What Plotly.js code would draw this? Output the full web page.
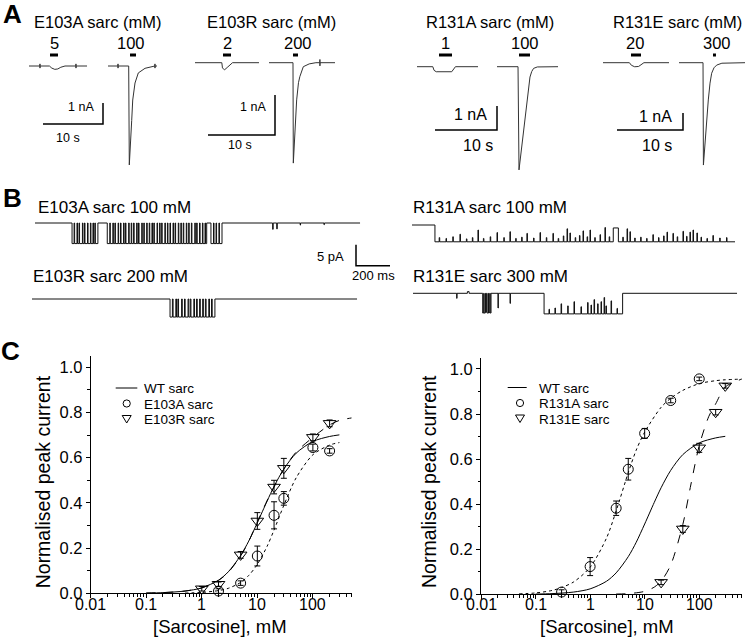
<!DOCTYPE html>
<html><head><meta charset="utf-8">
<script src="https://cdn.plot.ly/plotly-3.0.1.min.js"></script>
<style>html,body{margin:0;padding:0;background:#fff}#chart{width:745px;height:637px}</style>
</head><body><div id="chart"></div>
<script>
const W=745,H=637;
const FONT='Arial, "Liberation Sans", Helvetica, sans-serif';
const px=X=>X/W, py=Y=>1-Y/H;

// ================= Panel C : concentration-response data =================
const e103aConc=[2,5,10,20,30,100,200];
const e103aResp=[0.01,0.045,0.165,0.345,0.42,0.645,0.63];
const e103aErr=[0.01,0.01,0.044,0.06,0.03,0.015,0.01];
const e103rConc=[1,2,5,10,20,30,100,200];
const e103rResp=[0.02,0.04,0.17,0.32,0.47,0.553,0.69,0.752];
const e103rErr=[0.01,0.01,0.015,0.037,0.03,0.044,0.015,0.015];
const r131aConc=[0.3,1,3,5,10,30,100];
const r131aResp=[0.01,0.123,0.382,0.555,0.714,0.86,0.956];
const r131aErr=[0.01,0.04,0.032,0.048,0.022,0.01,0.008];
const r131eConc=[20,50,100,200,300];
const r131eResp=[0.053,0.29,0.65,0.808,0.925];
const r131eErr=[0.01,0.015,0.02,0.012,0.01];

// fitted curves
const wtConc=[0.1,0.2,0.5,1,2,3,5,7,10,15,20,30,50,100,200,300];
const wtFit=[0.001,0.003,0.01,0.024,0.058,0.095,0.167,0.231,0.312,0.408,0.473,0.55,0.62,0.672,0.694,0.701];
const e103aFitConc=[0.5,1,2,3,5,7,10,15,20,30,50,100,200,300];
const e103aFit=[0.001,0.004,0.012,0.022,0.048,0.079,0.128,0.208,0.28,0.389,0.511,0.613,0.656,0.667];
const e103rFitConc=[0.1,0.2,0.5,1,2,3,5,7,10,15,20,30,50,100,200,300,500];
const e103rFit=[0.001,0.003,0.01,0.024,0.057,0.093,0.165,0.23,0.315,0.41,0.47,0.55,0.625,0.69,0.745,0.765,0.776];
const r131aFitConc=[0.05,0.1,0.2,0.3,0.5,1,2,3,5,7,10,20,30,50,100,200,300,600];
const r131aFit=[0.002,0.006,0.017,0.03,0.055,0.12,0.25,0.37,0.54,0.64,0.72,0.83,0.87,0.905,0.935,0.948,0.952,0.955];
const r131eFitConc=[3,5,10,15,20,30,50,70,100,150,200,300,600];
const r131eFit=[0.001,0.003,0.013,0.032,0.058,0.13,0.31,0.485,0.66,0.79,0.845,0.92,0.955];

const xTickVals=[0.01,0.1,1,10,100];
const xTickText=['0.01','0.1','1','10','100'];

// ================= Panel A : whole-cell currents (time s, current nA) =================
const groupNames=['E103A sarc (mM)','E103R sarc (mM)','R131A sarc (mM)','R131E sarc (mM)'];
const concLabels=[['5','100'],['2','200'],['1','100'],['20','300']];
// E103A
const tE103A_5=[0,1.81,1.83,1.83,1.85,3.4,3.8,4.3,4.8,5.3,6.0,7.81,7.83,7.83,7.85,9.67];
const iE103A_5=[0,0,0.1,-0.1,0,0,-0.10,-0.16,-0.14,-0.06,0,0,0.1,-0.1,0,0];
const tE103A_100=[0,1.65,1.67,1.67,1.69,3.45,3.55,3.95,4.12,4.5,5.05,6.17,7.5,7.81,7.83,7.83,7.85,8.17];
const iE103A_100=[0,0,0.1,-0.1,0,0,-4.71,-2.6,-1.62,-0.81,-0.33,-0.11,-0.02,0,0.1,-0.1,0,0];
// E103R
const tE103R_2=[0,4.0,4.1,4.4,4.8,5.2,5.6,9.55];
const iE103R_2=[0,0,-0.13,-0.18,-0.12,-0.05,0,0];
const tE103R_200=[0,3.58,3.63,3.9,4.13,4.4,4.6,5.12,6.0,7.0,7.58,7.6,7.6,7.62,9.85];
const iE103R_200=[0,0,-2.51,-1.7,-0.93,-0.5,-0.35,-0.1,-0.03,0,0,0.08,-0.08,0,0];
// R131A
const tR131A_1=[0,2.55,2.75,3.1,5.6,5.95,6.2,9.84];
const iR131A_1=[0,0,-0.15,-0.21,-0.21,-0.1,0,0];
const tR131A_100=[0,3.39,3.55,4.2,4.84,5.1,5.32,5.6,5.9,6.5,9.84];
const iR131A_100=[0,0,-4.3,-2.85,-1.39,-0.85,-0.43,-0.2,-0.07,-0.01,0];
// R131E
const tR131E_20=[0,4.0,4.3,4.8,5.4,5.9,6.2,10];
const iR131E_20=[0,0,-0.15,-0.24,-0.22,-0.08,0,0];
const tR131E_300=[0,3.64,3.7,4.1,4.44,4.7,4.95,5.3,5.71,6.5,10];
const iR131E_300=[0,0,-6.02,-3.8,-2.19,-1.2,-0.62,-0.3,-0.14,-0.03,0];
// agonist application windows (s, from each trace start)
const appE103A=[[3.5,4.83],[3.67,4.67]];
const appE103R=[[4.18,5.37],[3.58,4.33]];
const appR131A=[[3.55,5.65],[3.55,5.32]];
const appR131E=[[4.24,5.76],[5.15,5.6]];
const scaleA_s=10, scaleA_nA=1;

// ================= Panel B : single-channel records (time ms, current pA) =================
const bLabels=['E103A sarc 100 mM','E103R sarc 200 mM','R131A sarc 100 mM','R131E sarc 300 mM'];
const bDur=[1912,1912,1900,1906];
const e103aAmp=-4.9;
const e103aOpen=[[218,230],[233,247],[250,259],[262,279],[282,291],[294,309],[312,326],[329,341],[344,352],[355,370],
 [425,440],[443,458],[461,470],[473,489],[492,503],[506,521],[524,532],[535,551],[554,566],[569,580],[583,598],[601,609],
 [612,628],[631,640],[643,657],[660,672],[675,688],[691,699],[702,718],[721,733],[736,745],[748,764],[767,779],[782,794],
 [797,812],[815,824],[827,843],[846,858],[861,872],[875,890],[893,904],[907,920],[923,940],[943,951],[954,968],[971,985],
 [988,1000],[1003,1010],[1035,1050],[1053,1065],[1068,1082],[1085,1100]];
const e103aSpikes=[[1398,1401,-1.5],[1422,1425,-1.4],[1560,1562,-0.5],[1700,1702,-0.4]];
const e103rAmp=-4.3;
const e103rOpen=[[812,826],[830,846],[850,858],[862,880],[884,897],[901,918],[922,931],[935,952],[956,968],[972,986],[990,1004],[1008,1020],[1024,1040],[1044,1056],[1060,1076]];
const r131aStart=135, r131aAmp=-4.0;
const r131aClosures=[[160,-3.0],[200,-3.2],[240,-2.8],[282,-2.2],[320,-3.3],[355,-3.0],[388,-1.2],[420,-3.2],[460,-2.8],[500,-1.8],
 [540,-3.0],[576,-1.6],[610,-3.2],[645,-2.9],[676,-2.0],[715,-3.1],[753,-1.8],[790,-3.0],[829,-2.0],[860,-3.2],[890,-2.6],
 [912,-0.9],[929,-1.9],[960,-3.0],[985,-2.5],[1006,-1.4],[1030,-2.8],[1047,-1.2],[1075,-3.0],[1106,-2.3],[1135,-0.6],[1160,-2.8],
 [1184,-0.7,30],[1240,-2.9],[1265,-0.9],[1282,-1.6],[1310,-3.1],[1345,-2.9],[1380,-3.2],[1417,-2.3],[1450,-3.0],[1480,-2.6],
 [1500,-1.7],[1535,-2.0],[1560,-2.8],[1594,-1.5],[1615,-2.7],[1635,-1.7],[1653,-1.2],[1676,-1.9],[1700,-2.9],[1735,-3.2],
 [1770,-2.5],[1810,-3.1],[1850,-3.0]];
const r131eEvents=[[257,259,-1.2],[320,330,0.4],[410,416,-4.7],[418,425,-4.7],[427,433,-4.5],[436,444,-4.7],[446,452,-4.6],[454,459,-4.7],[500,502,-3.5],[571,573,-2.4]];
const r131eOpenPeriod=[771,1233], r131eAmp=-4.9;
const r131eClosures=[[800,-3.8],[835,-3.5],[871,-2.5],[910,-3.0],[947,-2.0],[988,-3.2],[1027,-2.2],[1047,-2.8],[1065,-1.5],[1086,-2.5],[1106,-2.0],[1124,-1.0],[1135,-3.0],[1165,-1.8],[1200,-3.6]];
const scaleB_ms=200, scaleB_pA=5;

// ================= helpers =================
function withClosures(s,e,amp,cl){
  const segs=[];let cur=s;
  for(const c of cl){const d=c[2]||3; segs.push([cur,c[0],amp]); segs.push([c[0],c[0]+d,c[1]]); cur=c[0]+d;}
  segs.push([cur,e,amp]); return segs;
}
function hv(dur,base,segs){
  const t=[0],v=[base];
  segs.forEach((sg,i)=>{t.push(sg[0]);v.push(sg[2]);
    const nx=segs[i+1];
    if(sg[1]>=dur){t.push(dur);v.push(sg[2]);}
    else if(!nx||nx[0]>sg[1]){t.push(sg[1]);v.push(base);} });
  if(t[t.length-1]<dur){t.push(dur);v.push(base);}
  return {t,v};
}

const traces=[]; const layout={width:W,height:H,margin:{l:0,r:0,t:0,b:0},showlegend:false,
  paper_bgcolor:'#fff',plot_bgcolor:'rgba(0,0,0,0)',font:{family:FONT,color:'#000'},annotations:[],shapes:[]};
const A=layout.annotations, S=layout.shapes;
function ann(text,X,Y,size,o){A.push(Object.assign({text,x:px(X),y:py(Y),xref:'paper',yref:'paper',showarrow:false,
  font:{family:FONT,size,color:'#000'},xanchor:'center',yanchor:'middle',borderpad:0},o||{}));}

let axN=3;
function hiddenAxes(X0,Y0,kx,ky,box){
  const n=axN++;
  layout['xaxis'+n]={domain:[px(box[0]),px(box[1])],range:[(box[0]-X0)/kx,(box[1]-X0)/kx],visible:false,fixedrange:true,anchor:'y'+n};
  layout['yaxis'+n]={domain:[py(box[3]),py(box[2])],range:[(Y0-box[3])/ky,(Y0-box[2])/ky],visible:false,fixedrange:true,anchor:'x'+n};
  return {xa:'x'+n,ya:'y'+n,X0,Y0,kx,ky,tx:X=>(X-X0)/kx,iy:Y=>(Y0-Y)/ky};
}
function line(ax,x,y,w,c,extra){traces.push(Object.assign({type:'scatter',mode:'lines',x,y,xaxis:ax.xa,yaxis:ax.ya,
  line:{color:c||'#222',width:w||1},hoverinfo:'skip',cliponaxis:false},extra||{}));}

// ================= Panel A layout =================
const gA=[
 {X0:29,Y0:66,kx:6.0,ky:21,box:[24,182,36,172],X2:108,corner:[103,124],tr:[[tE103A_5,iE103A_5],[tE103A_100,iE103A_100]],app:appE103A,
  title:97.5,conc:[54,131],nA:[80.5,107],s:[67.5,138],fs:12.5},
 {X0:195,Y0:62.7,kx:6.7,ky:40,box:[190,340,36,172],X2:269,corner:[275,135],tr:[[tE103R_2,iE103R_2],[tE103R_200,iE103R_200]],app:appE103R,
  title:271,conc:[227,297.5],nA:[252.5,107],s:[240,145],fs:12.5},
 {X0:417,Y0:66.7,kx:6.2,ky:24,box:[412,562,36,175],X2:497,corner:[497,130],tr:[[tR131A_1,iR131A_1],[tR131A_100,iR131A_100]],app:appR131A,
  title:490,conc:[445,524.5],nA:[470.5,115],s:[477.5,146],fs:16},
 {X0:603,Y0:62.7,kx:6.6,ky:17,box:[598,745,36,172],X2:679,corner:[683,130],tr:[[tR131E_20,iR131E_20],[tR131E_300,iR131E_300]],app:appR131E,
  title:677,conc:[635,717],nA:[655,117],s:[657,146],fs:16}
];
gA.forEach((g,k)=>{
  const ax=hiddenAxes(g.X0,g.Y0,g.kx,g.ky,g.box);
  const offs=[0,ax.tx(g.X2)];
  g.tr.forEach((tr,j)=>{ line(ax,tr[0].map(t=>t+offs[j]),tr[1],1,'#333');
    const a=g.app[j], yb=ax.iy(55);
    line(ax,[a[0]+offs[j],a[1]+offs[j]],[yb,yb],3,'#000');
    ann(concLabels[k][j],g.conc[j],43,16.5);
  });
  const ct=ax.tx(g.corner[0]), ci=ax.iy(g.corner[1]);
  line(ax,[ct-scaleA_s,ct,ct],[ci,ci,ci+scaleA_nA],1.5,'#000');
  ann(groupNames[k],g.title,22,16.5);
  ann(scaleA_nA+' nA',g.nA[0],g.nA[1],g.fs);
  ann(scaleA_s+' s',g.s[0],g.s[1],g.fs);
});

// ================= Panel B layout =================
const kB=0.17, kBy=4.2;
const bAx=[
  hiddenAxes(35,223,kB,kBy,[30,400,212,272]),
  hiddenAxes(32,299,kB,kBy,[28,362,285,325]),
  hiddenAxes(412,225,kB,kBy,[405,742,212,252]),
  hiddenAxes(413,293.3,kB,kBy,[405,742,280,320])
];
const bSegs=[
  e103aOpen.map(o=>[o[0],o[1],e103aAmp]).concat(e103aSpikes),
  e103rOpen.map(o=>[o[0],o[1],e103rAmp]),
  withClosures(r131aStart,bDur[2],r131aAmp,r131aClosures),
  r131eEvents.concat(withClosures(r131eOpenPeriod[0],r131eOpenPeriod[1],r131eAmp,r131eClosures))
];
bSegs.forEach((sg,k)=>{
  const r=hv(bDur[k],0,sg);
  line(bAx[k],r.t,r.v,1,'#111',{line:{shape:'hv',color:'#111',width:1}});
});
const bLab=[[37,207],[32,276.7],[411.7,207],[411.7,276.7]];
bLabels.forEach((t,k)=>ann(t,bLab[k][0],bLab[k][1],17,{xanchor:'left'}));
{ const ax=bAx[0]; const ct=ax.tx(356), ci=ax.iy(265.7);
  line(ax,[ct+scaleB_ms,ct,ct],[ci,ci,ci+scaleB_pA],1.5,'#000');
  ann(scaleB_pA+' pA',345,256.7,13,{xanchor:'right'});
  ann(scaleB_ms+' ms',373,275.7,13); }

// ================= Panel C =================
function minorVals(maxv){const v=[];for(let d=0.01;d<maxv;d*=10){for(let m=2;m<=9;m++){if(m*d<=maxv)v.push(+(m*d).toPrecision(3));}}return v;}
function cAxes(n,xd,yd,xmax){
  layout[n===1?'xaxis':'xaxis'+n]={domain:xd,type:'log',range:[-2,Math.log10(xmax)],anchor:n===1?'y':'y'+n,showline:true,linecolor:'#000',linewidth:1,
    ticks:'outside',ticklen:4,tickwidth:1,tickcolor:'#000',tickmode:'array',tickvals:xTickVals,ticktext:xTickText,showticklabels:false,
    showgrid:false,zeroline:false,fixedrange:true,
    minor:{ticks:'outside',ticklen:2.5,tickwidth:1,tickcolor:'#000',tickmode:'array',tickvals:minorVals(xmax),showgrid:false}};
  layout[n===1?'yaxis':'yaxis'+n]={domain:yd,range:[0,1.05],anchor:n===1?'x':'x'+n,showline:true,linecolor:'#000',linewidth:1,
    ticks:'outside',ticklen:4,tickwidth:1,tickcolor:'#000',tickmode:'linear',tick0:0,dtick:0.2,tickformat:'.1f',tickfont:{family:FONT,size:16.5,color:'#000'},
    showgrid:false,zeroline:false,fixedrange:true,
    minor:{ticks:'outside',ticklen:2.5,tickwidth:1,tickcolor:'#000',tick0:0,dtick:0.1,showgrid:false}};
  // x tick labels placed as annotations on the axis' own scale (log axis => log10 position)
  xTickVals.forEach((v,i)=>A.push({text:xTickText[i],x:Math.log10(v),xref:n===1?'x':'x'+n,y:py(604.5),yref:'paper',
    showarrow:false,xanchor:'center',yanchor:'middle',borderpad:0,font:{family:FONT,size:16,color:'#000'}}));
}
cAxes(1,[px(90.7),px(351.7)],[py(593.3),py(356)],500);
cAxes(2,[px(481),px(741.7)],[py(594.3),py(357.7)],600);
const C1={xa:'x',ya:'y'}, C2={xa:'x2',ya:'y2'};
function fit(ax,x,y,dash){traces.push({type:'scatter',mode:'lines',x,y,xaxis:ax.xa,yaxis:ax.ya,line:{color:'#000',width:1,dash,shape:'spline',smoothing:0.8},hoverinfo:'skip'});}
function pts(ax,x,y,e,sym,sz){traces.push({type:'scatter',mode:'markers',x,y,xaxis:ax.xa,yaxis:ax.ya,cliponaxis:false,
  error_y:{type:'data',array:e,visible:true,color:'#000',thickness:1,width:3},
  marker:{symbol:sym,size:sz,color:'#000',line:{width:1,color:'#000'}},hoverinfo:'skip'});}
fit(C1,wtConc,wtFit,'solid');
fit(C1,e103aFitConc,e103aFit,'dot');
fit(C1,e103rFitConc,e103rFit,'dash');
pts(C1,e103aConc,e103aResp,e103aErr,'circle-open',10);
pts(C1,e103rConc,e103rResp,e103rErr,'triangle-down-open',11);
fit(C2,wtConc,wtFit,'solid');
fit(C2,r131aFitConc,r131aFit,'dot');
fit(C2,r131eFitConc,r131eFit,'dash');
pts(C2,r131aConc,r131aResp,r131aErr,'circle-open',10);
pts(C2,r131eConc,r131eResp,r131eErr,'triangle-down-open',11);

// axis titles
ann('Normalised peak current',43.3,482,19.5,{textangle:-90});
ann('Normalised peak current',428.3,481.7,19.5,{textangle:-90});
ann('[Sarcosine], mM',220,626.5,18.5);
ann('[Sarcosine], mM',606.7,626.5,18.5);

// legends
function legend(lx0,lx1,mx,tx,ys,names){
  S.push({type:'line',xref:'paper',yref:'paper',x0:px(lx0),x1:px(lx1),y0:py(ys[0]),y1:py(ys[0]),line:{color:'#000',width:1}});
  const r=3.6;
  S.push({type:'circle',xref:'paper',yref:'paper',x0:px(mx-r),x1:px(mx+r),y0:py(ys[1]+r),y1:py(ys[1]-r),line:{color:'#000',width:1}});
  const Y=ys[2];
  S.push({type:'path',xref:'paper',yref:'paper',path:`M ${px(mx-4.5)} ${py(Y-3.5)} L ${px(mx+4.5)} ${py(Y-3.5)} L ${px(mx)} ${py(Y+4)} Z`,line:{color:'#000',width:1}});
  names.forEach((n,i)=>ann(n,tx,ys[i]+0.5,13.5,{xanchor:'left'}));
}
legend(115.7,137.3,126.7,142.7,[388,403.5,419],['WT sarc','E103A sarc','E103R sarc']);
legend(507.7,526.7,520,538.3,[387.5,403,418.5],['WT sarc','R131A sarc','R131E sarc']);

// panel letters
ann('<b>A</b>',12,14,26);
ann('<b>B</b>',12.5,198,26);
ann('<b>C</b>',10,351,26);

Plotly.newPlot('chart',traces,layout,{staticPlot:true,displayModeBar:false});
</script></body></html>
